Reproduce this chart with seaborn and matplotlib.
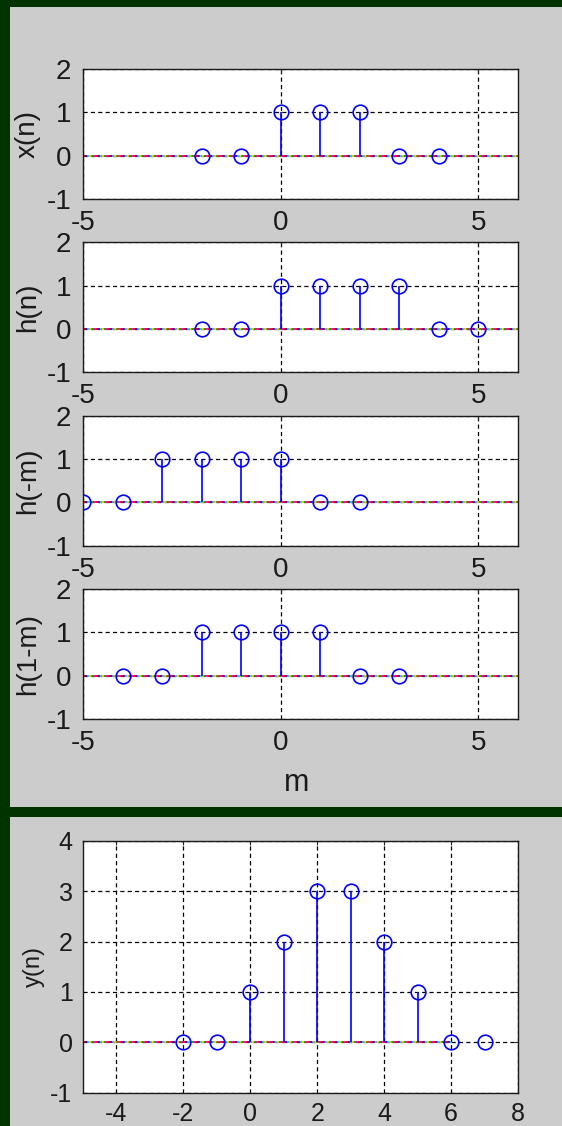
import matplotlib
matplotlib.use("Agg")
import matplotlib.pyplot as plt
from matplotlib.patches import Rectangle
import seaborn as sns

# ---------------- data ----------------
n_x = [-2, -1, 0, 1, 2, 3, 4]
x_vals = [0, 0, 1, 1, 1, 0, 0]
n_h = [-2, -1, 0, 1, 2, 3, 4, 5]
h_vals = [0, 0, 1, 1, 1, 1, 0, 0]
m_hm = [-5, -4, -3, -2, -1, 0, 1, 2]
hm_vals = [0, 0, 1, 1, 1, 1, 0, 0]
m_h1m = [-4, -3, -2, -1, 0, 1, 2, 3]
h1m_vals = [0, 0, 1, 1, 1, 1, 0, 0]
n_y = [-2, -1, 0, 1, 2, 3, 4, 5, 6, 7]
y_vals = [0, 0, 1, 2, 3, 3, 2, 1, 0, 0]

top_labels = ["x(n)", "h(n)", "h(-m)", "h(1-m)"]
top_xlim = [-5, 6]
top_ylim = [-1, 2]
top_xticks = [-5, 0, 5]
top_yticks = [-1, 0, 1, 2]
bottom_xlim = [-5, 8]
bottom_ylim = [-1, 4]
bottom_xticks = [-4, -2, 0, 2, 4, 6, 8]
bottom_yticks = [-1, 0, 1, 2, 3, 4]
baseline_span = [-5, 6]

# ---------------- style ----------------
sns.set_style("white")
plt.rcParams["font.family"] = ["Liberation Sans", "DejaVu Sans"]
plt.rcParams["axes.unicode_minus"] = False
plt.rcParams["lines.scale_dashes"] = False

W, H = 562, 1126
fig = plt.figure(figsize=(W / 100, H / 100), dpi=100, facecolor="#003300")


def rect(x0, y0, x1, y1):
    return [x0 / W, 1 - y1 / H, (x1 - x0) / W, (y1 - y0) / H]


fig.add_artist(Rectangle((10 / W, 1 - 807.3 / H), 552 / W, 800.3 / H,
                         transform=fig.transFigure, facecolor="#cccccc",
                         edgecolor="none", zorder=-10))
fig.add_artist(Rectangle((10 / W, 0), 552 / W, (H - 816.7) / H,
                         transform=fig.transFigure, facecolor="#cccccc",
                         edgecolor="none", zorder=-10))

BLUE = "#0000ff"
base_colors = ["#ff0000", "#ff00ff", "#00b000", "#ffff00", "#00ffff", "#0000ff"]


def stem(ax, xs, ys, span):
    seg = 1.5
    period = seg * len(base_colors)
    ax.plot(span, [0, 0], color="#ff0000", lw=1.1, zorder=2.4)
    for i, c in enumerate(base_colors):
        ax.plot(span, [0, 0], color=c, lw=1.1, zorder=2.5,
                linestyle=(i * seg, (seg, period - seg)))
    ax.vlines(xs, 0, ys, color=BLUE, lw=1.2, zorder=3)
    sns.lineplot(x=xs, y=ys, ax=ax, marker="o", linestyle="none",
                 color=BLUE, mfc="none", mec=BLUE, ms=10.5, mew=1.2,
                 errorbar=None, zorder=4)


def style_axes(ax, xlim, ylim, xt, yt, fs, xpad, ypad):
    ax.set_facecolor("white")
    ax.set_xlim(xlim)
    ax.set_ylim(ylim)
    ax.set_xticks(xt)
    ax.set_yticks(yt)
    ax.set_axisbelow(True)
    ax.grid(True, color="black", lw=0.9, linestyle=(0, (3.0, 2.3)))
    for s in ax.spines.values():
        s.set_visible(True)
        s.set_color("#1a1a1a")
        s.set_linewidth(1.0)
    ax.tick_params(axis="both", direction="in", length=3, width=0.8,
                   top=True, right=True, labelsize=fs, labelcolor="#1a1a1a")
    ax.tick_params(axis="x", pad=xpad)
    ax.tick_params(axis="y", pad=ypad)
    ax.set_xlabel("")
    ax.set_ylabel("")


series = [(n_x, x_vals), (n_h, h_vals), (m_hm, hm_vals), (m_h1m, h1m_vals)]
top_edges = [69, 242.3, 415.6, 588.9]
ax_h = 130
for i, ((xs, ys), lab) in enumerate(zip(series, top_labels)):
    t = top_edges[i]
    ax = fig.add_axes(rect(83, t, 518, t + ax_h))
    stem(ax, xs, ys, baseline_span)
    style_axes(ax, top_xlim, top_ylim, top_xticks, top_yticks, 20, 8.0, 8.5)
    ax.set_ylabel(lab, fontsize=20, color="#1a1a1a")
    ax.yaxis.set_label_coords((28 - 83) / 435, 0.5)
    ax.yaxis.label.set_verticalalignment("center")
    if i == 3:
        ax.set_xlabel("m", fontsize=22, color="#1a1a1a")
        ax.xaxis.set_label_coords((296.5 - 83) / 435, -(782.5 - (t + ax_h)) / ax_h)
        ax.xaxis.label.set_verticalalignment("center")

axb = fig.add_axes(rect(83, 840.7, 518, 1092.7))
stem(axb, n_y, y_vals, baseline_span)
style_axes(axb, bottom_xlim, bottom_ylim, bottom_xticks, bottom_yticks, 18, 7.0, 7.5)
axb.set_ylabel("y(n)", fontsize=17, color="#1a1a1a")
axb.yaxis.set_label_coords((33.5 - 83) / 435, 0.5)
axb.yaxis.label.set_verticalalignment("center")

fig.savefig("out.png", dpi=100, facecolor=fig.get_facecolor())
